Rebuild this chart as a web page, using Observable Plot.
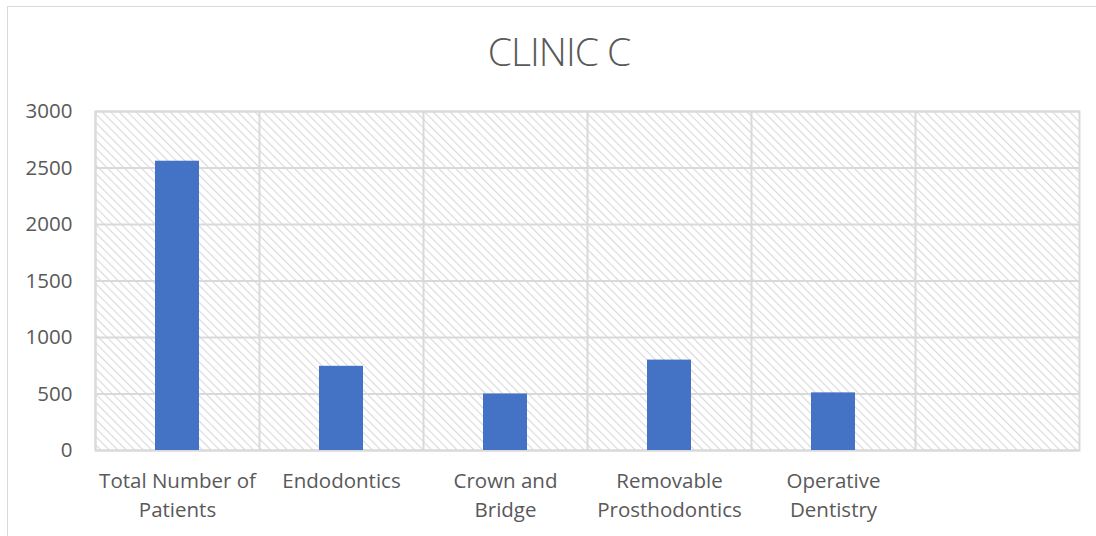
<!DOCTYPE html>
<html>
<head>
<meta charset="utf-8">
<script src="https://cdn.jsdelivr.net/npm/d3@7"></script>
<script src="https://cdn.jsdelivr.net/npm/@observablehq/plot@0.6"></script>
<style>
  html, body { margin: 0; padding: 0; background: #fff; }
  #wrap { position: relative; width: 1096px; height: 536px; overflow: hidden; font-family: "Open Sans", sans-serif; }
  #border { position: absolute; left: 7px; top: 6px; width: 1200px; height: 600px; border-left: 1.5px solid #d9d9d9; border-top: 1.5px solid #d9d9d9; }
  #title { position: absolute; left: 22px; top: 26px; width: 1074px; text-align: center; font-size: 39px; font-weight: 300; color: #595959; letter-spacing: -1px; line-height: 50px; }
  #chart { position: absolute; left: 0; top: 70px; }
</style>
</head>
<body>
<div id="wrap">
  <div id="border"></div>
  <div id="chart"></div>
  <div id="title">CLINIC C</div>
</div>
<script>
const categories = ["Total Number of\nPatients", "Endodontics", "Crown and\nBridge", "Removable\nProsthodontics", "Operative\nDentistry", " "];
const barCategories = ["Total Number of\nPatients", "Endodontics", "Crown and\nBridge", "Removable\nProsthodontics", "Operative\nDentistry"];
const values = [2560, 745, 500, 800, 510];
const yTicks = [0, 500, 1000, 1500, 2000, 2500, 3000];

const data = barCategories.map((c, i) => ({category: c, value: values[i]}));

const plot = Plot.plot({
  width: 1096,
  height: 466,
  marginTop: 41,
  marginBottom: 86,
  marginLeft: 95,
  marginRight: 17,
  style: {fontFamily: "Open Sans, sans-serif", fontSize: "20px", color: "#595959", background: "transparent"},
  x: {domain: categories, padding: 0, label: null},
  y: {domain: [0, 3000], ticks: yTicks, label: null},
  marks: [
    Plot.frame({fill: "url(#hatch)", stroke: "none"}),
    Plot.gridY(yTicks, {stroke: "#d9d9d9", strokeOpacity: 1, strokeWidth: 2}),
    Plot.tickX(categories, {x: d => d, stroke: "#d9d9d9", strokeWidth: 2, dx: -82}),
    Plot.frame({stroke: "#d9d9d9", strokeWidth: 2}),
    Plot.barY(data, {x: "category", y: "value", fill: "#4472C4", insetLeft: 60, insetRight: 60}),
    Plot.axisY(yTicks, {tickSize: 0, tickPadding: 23, fontSize: 20.5, fill: "#595959", tickFormat: d => String(d)}),
    Plot.axisX({tickSize: 0, tickPadding: 17, fontSize: 20.5, fill: "#595959", lineHeight: 1.42, textAnchor: "middle"})
  ]
});

// hatch pattern definition
const svg = d3.select(plot);
const defs = svg.insert("defs", ":first-child");
const pat = defs.append("pattern")
  .attr("id", "hatch")
  .attr("patternUnits", "userSpaceOnUse")
  .attr("width", 6).attr("height", 6)
  .attr("patternTransform", "rotate(-45)");
pat.append("rect").attr("width", 6).attr("height", 6).attr("fill", "#ffffff");
pat.append("line").attr("x1", 0).attr("y1", 0).attr("x2", 0).attr("y2", 6)
  .attr("stroke", "#d9d9d9").attr("stroke-width", 2.2);

document.getElementById("chart").appendChild(plot);
</script>
</body>
</html>
